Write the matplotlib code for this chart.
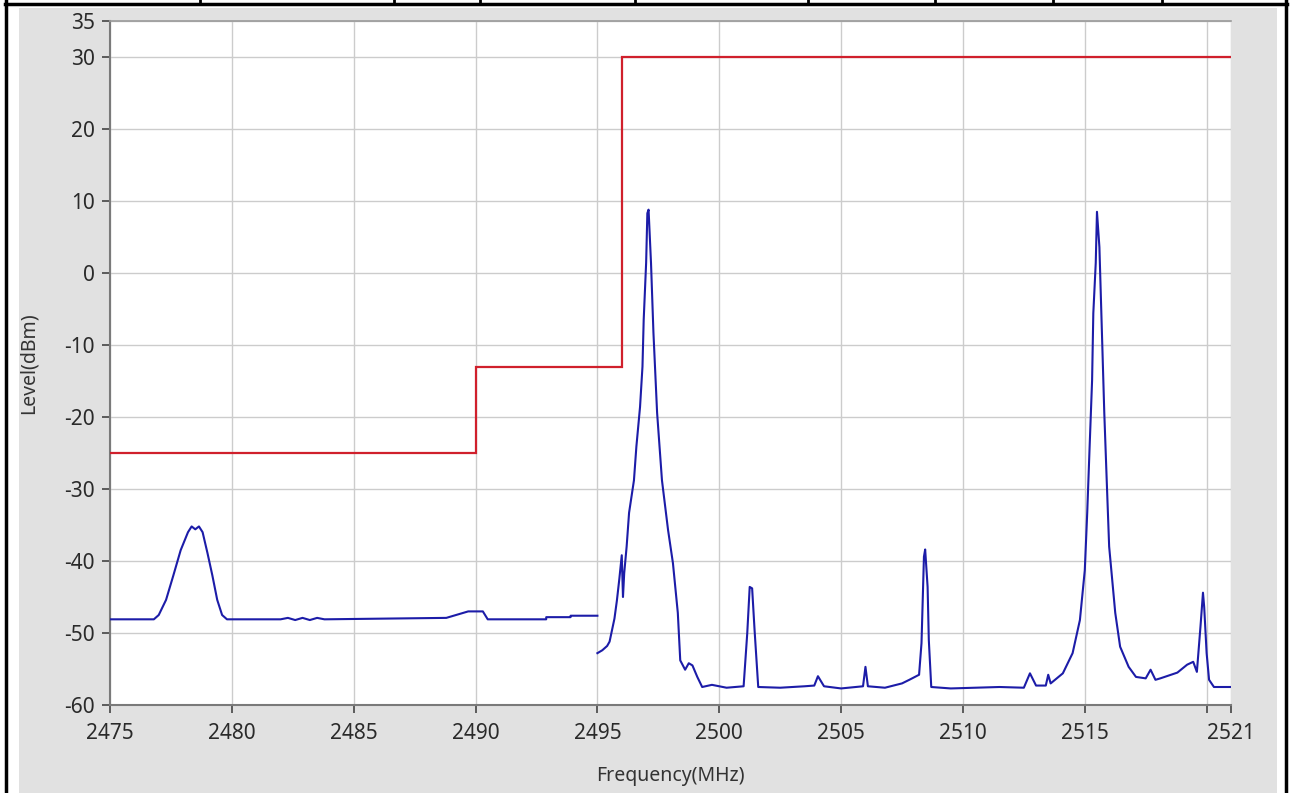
import numpy as np
import matplotlib
matplotlib.use("Agg")
import matplotlib.pyplot as plt
from matplotlib.patches import Rectangle
from matplotlib.lines import Line2D

plt.rcParams['font.family'] = ['Noto Sans', 'DejaVu Sans']
plt.rcParams['axes.unicode_minus'] = False

# Limit mask (red step line)
mask_edges = [2475, 2490, 2496, 2521]
mask_levels = [-25, -13, 30]

# Measured spectrum, band below 2495 MHz
low_freq = [2475.0, 2476.8, 2477.0, 2477.3, 2477.6, 2477.9, 2478.2, 2478.35, 2478.5,
            2478.65, 2478.8, 2479.0, 2479.2, 2479.4, 2479.6, 2479.8, 2482.0, 2482.3,
            2482.6, 2482.9, 2483.2, 2483.5, 2483.8, 2488.8, 2489.3, 2489.7, 2490.3,
            2490.5, 2492.9, 2492.9, 2493.9, 2493.9, 2495.0]
low_level = [-48.1, -48.1, -47.5, -45.4, -42.0, -38.5, -36.0, -35.2, -35.6,
             -35.2, -36.0, -38.9, -42.0, -45.4, -47.5, -48.1, -48.1, -47.9,
             -48.2, -47.9, -48.2, -47.9, -48.1, -47.9, -47.4, -47.0, -47.0,
             -48.1, -48.1, -47.8, -47.8, -47.6, -47.6]

# Measured spectrum, band above 2495 MHz
high_freq = [2495.0, 2495.2, 2495.4, 2495.5, 2495.6, 2495.7, 2495.8, 2495.9, 2496.0,
             2496.05, 2496.1, 2496.2, 2496.3, 2496.5, 2496.6, 2496.75, 2496.85, 2496.9,
             2497.0, 2497.05, 2497.1, 2497.2, 2497.3, 2497.45, 2497.65, 2497.9, 2498.1,
             2498.3, 2498.4, 2498.6, 2498.75, 2498.9, 2499.1, 2499.3, 2499.7, 2500.3,
             2501.0, 2501.15, 2501.25, 2501.35, 2501.45, 2501.6, 2502.5, 2503.5, 2503.9,
             2504.05, 2504.3, 2505.0, 2505.9, 2506.0, 2506.1, 2506.8, 2507.5, 2507.8,
             2508.2, 2508.3, 2508.4, 2508.45, 2508.55, 2508.6, 2508.7, 2509.5, 2510.5,
             2511.5, 2512.5, 2512.75, 2513.0, 2513.4, 2513.5, 2513.6, 2514.1, 2514.5,
             2514.8, 2515.0, 2515.1, 2515.2, 2515.3, 2515.35, 2515.45, 2515.5, 2515.6,
             2515.7, 2515.8, 2515.9, 2516.0, 2516.25, 2516.45, 2516.8, 2517.1, 2517.5,
             2517.7, 2517.9, 2518.1, 2518.8, 2519.2, 2519.45, 2519.6, 2519.75, 2519.85,
             2519.9, 2520.0, 2520.1, 2520.3, 2521.0]
high_level = [-52.8, -52.4, -51.8, -51.2, -49.6, -48.0, -45.5, -42.5, -39.2,
              -45.0, -41.7, -38.0, -33.3, -28.8, -24.1, -18.6, -13.0, -6.5,
              1.4, 8.3, 8.8, 1.4, -8.3, -19.4, -28.8, -35.7, -40.3,
              -47.2, -53.8, -55.1, -54.2, -54.5, -56.1, -57.5, -57.2, -57.6,
              -57.4, -50.0, -43.6, -43.8, -49.6, -57.5, -57.6, -57.4, -57.3,
              -56.0, -57.4, -57.7, -57.4, -54.7, -57.4, -57.6, -57.0, -56.5,
              -55.8, -51.4, -39.4, -38.4, -43.6, -51.0, -57.5, -57.7, -57.6,
              -57.5, -57.6, -55.6, -57.3, -57.3, -55.8, -57.0, -55.6, -52.8,
              -48.2, -41.3, -33.3, -24.0, -14.9, -5.6, 1.4, 8.5, 3.6,
              -7.9, -19.4, -28.8, -38.0, -47.2, -51.9, -54.7, -56.1, -56.3,
              -55.1, -56.5, -56.3, -55.5, -54.4, -54.0, -55.4, -49.0, -44.4,
              -46.4, -52.8, -56.5, -57.5, -57.5]

x_ticks = [2475, 2480, 2485, 2490, 2495, 2500, 2505, 2510, 2515, 2520, 2521]
x_labels = ['2475', '2480', '2485', '2490', '2495', '2500', '2505', '2510', '2515', '', '2521']
y_ticks = [-60, -50, -40, -30, -20, -10, 0, 10, 20, 30, 35]

W, H = 1290, 793
fig = plt.figure(figsize=(W / 100, H / 100), dpi=100)
fig.patch.set_facecolor('white')

# gray panel behind the graph
fig.add_artist(Rectangle((19 / W, 0), (1277 - 19) / W, (H - 8) / H,
                         transform=fig.transFigure, facecolor='#e1e1e1',
                         edgecolor='none', zorder=0))

# table border round the picture
def hline(y, x0, x1, lw=2.5):
    fig.add_artist(Line2D([x0 / W, x1 / W], [1 - y / H, 1 - y / H],
                          transform=fig.transFigure, color='black', lw=lw))

def vline(x, y0, y1, lw=2.5):
    fig.add_artist(Line2D([x / W, x / W], [1 - y0 / H, 1 - y1 / H],
                          transform=fig.transFigure, color='black', lw=lw))

hline(4, 5, 1287)
vline(6, 0, H)
vline(1286, 0, H)
for xd in [200, 394, 480, 635, 808, 935, 1053, 1162]:
    vline(xd, 0, 4, lw=2)

ax = fig.add_axes([110 / W, 1 - 705 / H, (1231 - 110) / W, (705 - 21) / H])
ax.set_facecolor('white')

ax.stairs(mask_levels, mask_edges, baseline=None, color='#d0202c', lw=1.6, zorder=3)
ax.plot(low_freq, low_level, color='#1c1ca8', lw=1.5, zorder=4)
ax.plot(high_freq, high_level, color='#1c1ca8', lw=1.5, zorder=4)

ax.set_xlim(2475, 2521)
ax.set_ylim(-60, 35)
ax.set_xticks(x_ticks)
ax.set_xticklabels(x_labels)
ax.set_yticks(y_ticks)
ax.grid(True, color='#cccccc', lw=1)
ax.set_axisbelow(True)

for side in ['left', 'bottom']:
    ax.spines[side].set_color('#7a7a7a')
    ax.spines[side].set_linewidth(1.5)
ax.spines['top'].set_color('#9a9a9a')
ax.spines['top'].set_linewidth(1.2)
ax.spines['right'].set_visible(False)

ax.tick_params(axis='both', colors='#444444', labelcolor='#2a2a2a',
               labelsize=15, length=6, width=1.2, direction='out')
ax.tick_params(axis='x', pad=7)
ax.tick_params(axis='y', pad=5)

ax.set_xlabel('Frequency(MHz)', fontsize=14, color='#333333', labelpad=16)
ax.set_ylabel('Level(dBm)', fontsize=14, color='#333333', labelpad=18)

fig.savefig('out.png', dpi=100)
